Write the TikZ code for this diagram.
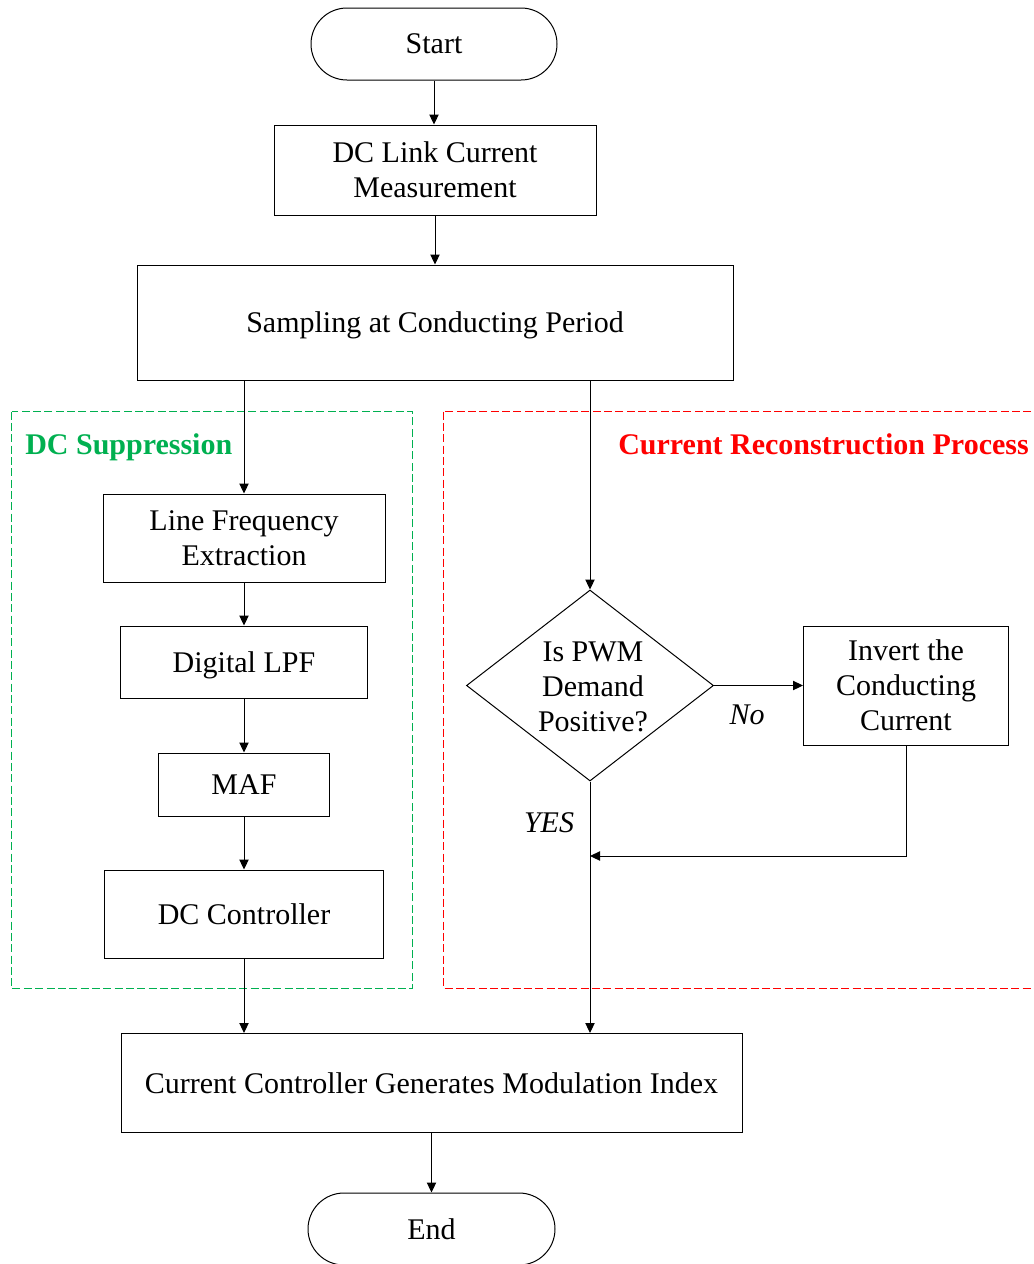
\documentclass[tikz,border=0pt]{standalone}
\usepackage{fontspec}
\setmainfont{Liberation Serif}
\usetikzlibrary{shapes.geometric,arrows.meta}
\definecolor{sgreen}{RGB}{0,176,80}
\definecolor{sred}{RGB}{255,0,0}
\begin{document}
\begin{tikzpicture}[x=0.75pt,y=-0.75pt,
  every node/.style={font=\fontsize{22.5}{26.25}\selectfont, align=center, inner sep=0pt},
  procbox/.style={draw, line width=0.75pt, rectangle, text depth=0pt},
  termbox/.style={draw, line width=0.75pt, rectangle, rounded corners=27pt, minimum width=184.5pt, minimum height=54pt, text depth=0pt},
  decbox/.style={draw, line width=0.75pt, diamond, minimum width=185.25pt, minimum height=143.25pt},
  flow/.style={line width=0.75pt, -{Triangle[length=7.5pt,width=7pt]}},
  groupline/.style={line width=0.9pt, dash pattern=on 6pt off 2.5pt},
  grouptitle/.style={font=\fontsize{22.5}{26.25}\selectfont\bfseries, anchor=base west}]
\useasboundingbox (0,0) rectangle (1034,1264);

% main column
\node[termbox] (start) at (434,44) {Start};
\node[procbox, minimum width=241.5pt, minimum height=67.5pt] (dcl) at (435,170) {DC Link Current\\Measurement};
\node[procbox, minimum width=447pt, minimum height=86.25pt] (samp) at (435,322.5) {Sampling at Conducting Period};

% DC suppression branch
\draw[groupline, sgreen] (11.5,411.5) rectangle (412.5,988.5);
\node[grouptitle, text=sgreen] (dcsup) at (25,454) {DC Suppression};
\node[procbox, minimum width=211.5pt, minimum height=66pt] (lfe) at (244,538) {Line Frequency\\Extraction};
\node[procbox, minimum width=185.25pt, minimum height=54pt] (lpf) at (244,662) {Digital LPF};
\node[procbox, minimum width=128.25pt, minimum height=47.25pt] (maf) at (244,784.5) {MAF};
\node[procbox, minimum width=209.25pt, minimum height=66pt] (dcc) at (244,914) {DC Controller};

% current reconstruction branch (frame runs past the right edge)
\begin{scope}
  \clip (0,0) rectangle (1034,1264);
  \draw[groupline, sred] (443.5,411.5) rectangle (1050,988.5);
\end{scope}
\node[grouptitle, text=sred] (crp) at (618,454) {Current Reconstruction Process};
\node[decbox] (dec) at (590,685.5) {\makebox[0pt]{\hspace{4.5pt}\smash{\raisebox{-8pt}{\begin{tabular}{@{}c@{}}Is PWM\\Demand\\Positive?\end{tabular}}}}};
\node[procbox, minimum width=153.75pt, minimum height=89.25pt] (inv) at (906,685.5) {Invert the\\Conducting\\Current};
\node[font=\fontsize{22.5}{26.25}\selectfont\itshape] (nolab) at (747,715) {No};
\node[font=\fontsize{22.5}{26.25}\selectfont\itshape] (yeslab) at (549,823) {YES};
\coordinate (join) at (590,856);

% output stage
\node[procbox, minimum width=465.75pt, minimum height=74.25pt] (cc) at (431.5,1083) {Current Controller Generates Modulation Index};
\node[termbox, minimum width=185.25pt] (end) at (431.5,1229) {End};

% connectors
\draw[flow] (start.south) -- (start.south |- dcl.north);
\draw[flow] (dcl.south) -- (samp.north);
\draw[flow] (samp.south -| lfe.north) -- (lfe.north);
\draw[flow] (samp.south -| dec.north) -- (dec.north);
\draw[flow] (lfe.south) -- (lpf.north);
\draw[flow] (lpf.south) -- (maf.north);
\draw[flow] (maf.south) -- (dcc.north);
\draw[flow] (dcc.south) -- (dcc.south |- cc.north);
\draw[flow] (dec.east) -- (inv.west);
\draw[flow] (inv.south) |- (join);
\draw[flow] (dec.south) -- (dec.south |- cc.north);
\draw[flow] (cc.south) -- (end.north);
\end{tikzpicture}
\end{document}
